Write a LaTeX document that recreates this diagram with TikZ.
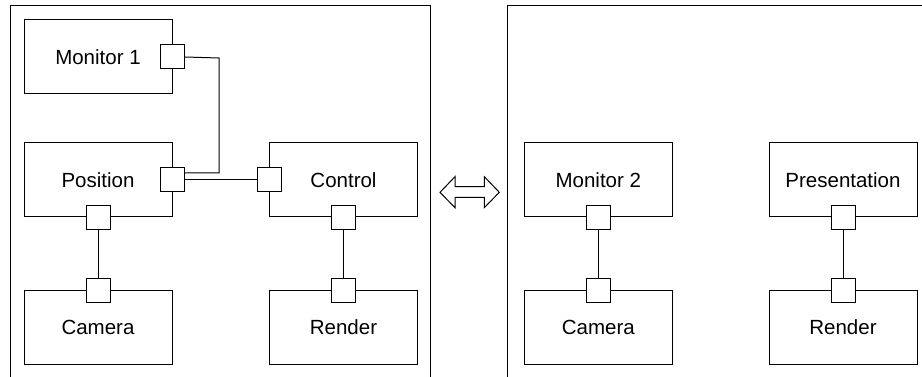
\documentclass[tikz,border=0pt]{standalone}
\usepackage{fontspec}
\setmainfont{Liberation Sans}
\usetikzlibrary{calc}
\begin{document}
\begin{tikzpicture}[x=1pt,y=-1pt,line width=1pt,
  box/.style={draw,minimum width=148pt,minimum height=74pt,inner sep=0pt,font=\fontsize{20.5}{24}\selectfont},
  port/.style={draw,fill=white,minimum size=24pt,inner sep=0pt},
  wire/.style={draw}]
\useasboundingbox (0,0) rectangle (922,377);
% frames
\draw (10,380) -- (10,5.7) -- (430,5.7) -- (430,380);
\draw (507,380) -- (507,5.7) -- (925,5.7);
% double arrow
\draw (440,192.3) -- (455,176.7) -- (455,186.7) -- (484.3,186.7) -- (484.3,176.7) -- (499.3,192.3) -- (484.3,207.7) -- (484.3,197.3) -- (455,197.3) -- (455,207.7) -- cycle;
% left components
\node[box] (mon1) at (98,57) {Monitor 1};
\node[box] (pos) at (98,180) {Position};
\node[box] (ctl) at (343.5,180) {Control};
\node[box] (cam1) at (98,327.5) {Camera};
\node[box] (ren1) at (343.5,327.5) {Render};
% right components
\node[box] (mon2) at (598.3,180) {Monitor 2};
\node[box] (pres) at (843,180) {Presentation};
\node[box] (cam2) at (598.3,327.5) {Camera};
\node[box] (ren2) at (843,327.5) {Render};
% ports
\node[port] (pm1) at (mon1.east) {};
\node[port] (ppr) at (pos.east) {};
\node[port] (ppb) at (pos.south) {};
\node[port] (pcl) at (ctl.west) {};
\node[port] (pcb) at (ctl.south) {};
\node[port] (pc1) at (cam1.north) {};
\node[port] (pr1) at (ren1.north) {};
\node[port] (pm2) at (mon2.south) {};
\node[port] (pps) at (pres.south) {};
\node[port] (pc2) at (cam2.north) {};
\node[port] (pr2) at (ren2.north) {};
% connectors
\begin{scope}[on background layer/.try]
\end{scope}
\draw (pm1.east) -- (219,58) -- (219,173) -- ($(ppr.east)+(0,-7)$);
\draw (ppr.east) -- (pcl.west);
\draw (ppb.south) -- (pc1.north);
\draw (pcb.south) -- (pr1.north);
\draw (pm2.south) -- (pc2.north);
\draw (pps.south) -- (pr2.north);
\end{tikzpicture}
\end{document}
